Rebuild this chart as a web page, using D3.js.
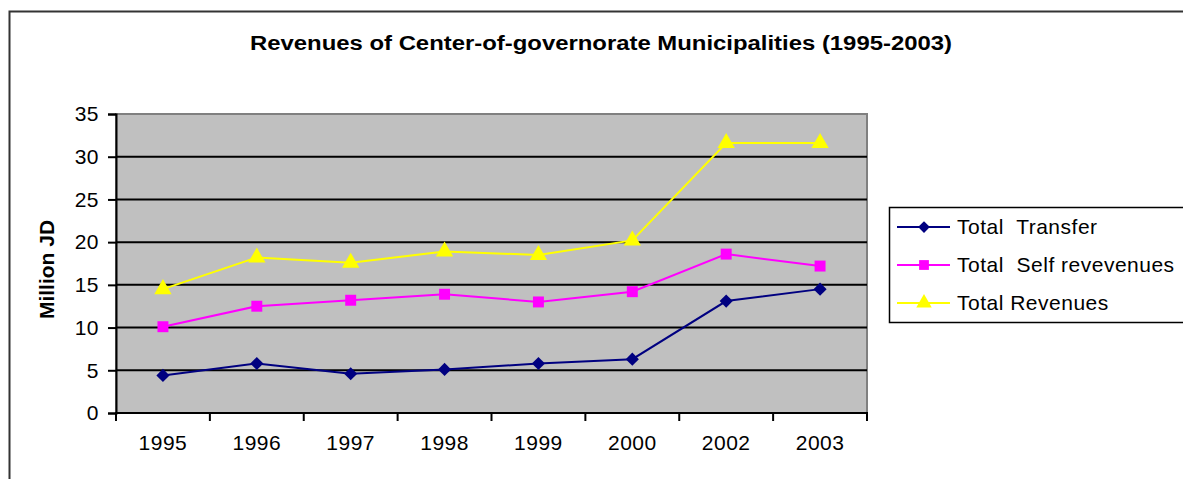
<!DOCTYPE html>
<html>
<head>
<meta charset="utf-8">
<script src="https://cdn.jsdelivr.net/npm/d3@7"></script>
<style>
  body { margin: 0; background: #fff; }
  text { font-family: "Liberation Sans", Arial, sans-serif; fill: #000; }
</style>
</head>
<body>
<div id="chart"></div>
<script>
const years = ["1995", "1996", "1997", "1998", "1999", "2000", "2002", "2003"];
const totalTransfer = [4.4, 5.8, 4.6, 5.1, 5.8, 6.3, 13.1, 14.5];
const selfRevenues = [10.1, 12.5, 13.2, 13.9, 13.0, 14.2, 18.6, 17.2];
const totalRevenues = [14.5, 18.2, 17.6, 18.9, 18.5, 20.2, 31.6, 31.6];
const seriesNames = ["Total  Transfer", "Total  Self revevenues", "Total Revenues"];
const yTicks = [0, 5, 10, 15, 20, 25, 30, 35];

const width = 1183, height = 479;
const plot = { left: 116, right: 867, top: 114, bottom: 413 };

const svg = d3.select("#chart").append("svg")
    .attr("width", width)
    .attr("height", height);

// outer chart border
svg.append("rect")
    .attr("x", 9.5).attr("y", 11.5)
    .attr("width", 1200).attr("height", 500)
    .attr("fill", "#fff")
    .attr("stroke", "#333").attr("stroke-width", 2);

svg.append("text")
    .attr("x", 601).attr("y", 50)
    .attr("text-anchor", "middle")
    .attr("font-size", "20px").attr("font-weight", "bold")
    .attr("textLength", 702).attr("lengthAdjust", "spacingAndGlyphs")
    .text("Revenues of Center-of-governorate Municipalities (1995-2003)");

const x = d3.scaleBand().domain(years).range([plot.left, plot.right]);
const y = d3.scaleLinear().domain([0, 35]).range([plot.bottom, plot.top]);

// plot area
svg.append("rect")
    .attr("x", plot.left).attr("y", plot.top)
    .attr("width", plot.right - plot.left).attr("height", plot.bottom - plot.top)
    .attr("fill", "#c0c0c0")
    .attr("stroke", "#808080").attr("stroke-width", 2);

// gridlines
svg.append("g").selectAll("line")
    .data(yTicks.filter(v => v > 0 && v < 35))
    .join("line")
    .attr("x1", plot.left).attr("x2", plot.right)
    .attr("y1", d => y(d)).attr("y2", d => y(d))
    .attr("stroke", "#000").attr("stroke-width", 2);

// y axis
const yAxis = svg.append("g")
    .attr("transform", `translate(${plot.left},0)`)
    .call(d3.axisLeft(y).tickValues(yTicks).tickSize(8).tickPadding(9));
yAxis.select(".domain").attr("stroke", "#000").attr("stroke-width", 2);
yAxis.selectAll(".tick line").attr("stroke-width", 2);
yAxis.selectAll("text")
    .attr("font-size", "21px").attr("letter-spacing", "0.5px")
    .attr("font-family", "Liberation Sans, Arial, sans-serif");

// x axis: labels centred in bands, ticks at band boundaries
const xAxis = svg.append("g")
    .attr("transform", `translate(0,${plot.bottom})`)
    .call(d3.axisBottom(x).tickSize(0).tickPadding(22));
xAxis.select(".domain").remove();
xAxis.selectAll("text")
    .attr("font-size", "21px").attr("letter-spacing", "0.5px")
    .attr("font-family", "Liberation Sans, Arial, sans-serif");
svg.append("line")
    .attr("x1", plot.left - 1).attr("x2", plot.right + 1)
    .attr("y1", plot.bottom).attr("y2", plot.bottom)
    .attr("stroke", "#000").attr("stroke-width", 2);
svg.append("g").selectAll("line")
    .data(years.map(d => x(d)).concat([x(years[years.length - 1]) + x.bandwidth()]))
    .join("line")
    .attr("x1", d => d).attr("x2", d => d)
    .attr("y1", plot.bottom).attr("y2", plot.bottom + 8)
    .attr("stroke", "#000").attr("stroke-width", 2);

svg.append("text")
    .attr("transform", `translate(54,${(plot.top + plot.bottom) / 2 + 6}) rotate(-90)`)
    .attr("text-anchor", "middle")
    .attr("font-size", "21px").attr("font-weight", "bold")
    .text("Million JD");

const series = [
    { name: seriesNames[0], values: totalTransfer, color: "#000080", shape: d3.symbolDiamond2, size: 110 },
    { name: seriesNames[1], values: selfRevenues, color: "#ff00ff", shape: d3.symbolSquare, size: 120 },
    { name: seriesNames[2], values: totalRevenues, color: "#ffff00", shape: d3.symbolTriangle, size: 130 }
];

const cx = d => x(d) + x.bandwidth() / 2;
const line = d3.line().x((d, i) => cx(years[i])).y(d => y(d));

series.forEach(s => {
    svg.append("path")
        .datum(s.values)
        .attr("d", line)
        .attr("fill", "none")
        .attr("stroke", s.color).attr("stroke-width", 2);
    svg.append("g").selectAll("path")
        .data(s.values)
        .join("path")
        .attr("transform", (d, i) => `translate(${cx(years[i])},${y(d)})`)
        .attr("d", d3.symbol().type(s.shape).size(s.size))
        .attr("fill", s.color);
});

// legend
const legend = svg.append("g").attr("transform", "translate(889,207)");
legend.append("rect")
    .attr("x", 0.5).attr("y", 0.5)
    .attr("width", 300).attr("height", 115)
    .attr("fill", "#fff")
    .attr("stroke", "#000").attr("stroke-width", 1.5);
series.forEach((s, i) => {
    const ly = 20 + i * 38;
    legend.append("line")
        .attr("x1", 8).attr("x2", 61)
        .attr("y1", ly).attr("y2", ly)
        .attr("stroke", s.color).attr("stroke-width", 2);
    legend.append("path")
        .attr("transform", `translate(35,${ly})`)
        .attr("d", d3.symbol().type(s.shape).size(s.size * 0.8))
        .attr("fill", s.color);
    legend.append("text")
        .attr("x", 68).attr("y", ly + 7)
        .attr("font-size", "21px").attr("letter-spacing", "0.5px")
        .style("white-space", "pre")
        .text(s.name);
});
</script>
</body>
</html>
